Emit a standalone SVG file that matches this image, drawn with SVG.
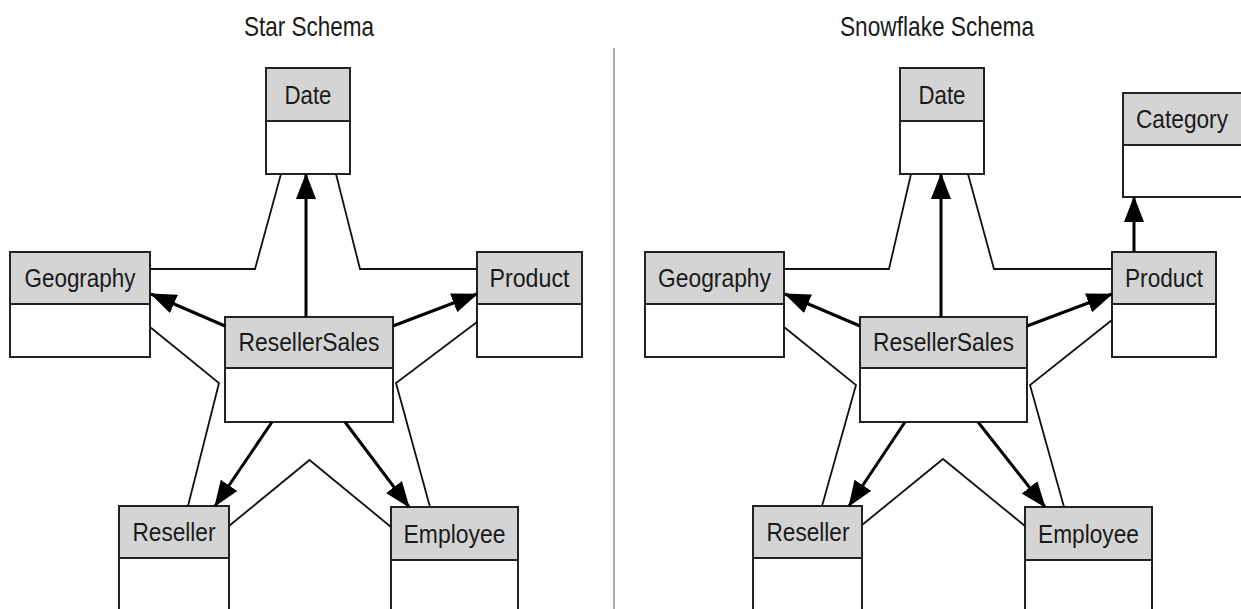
<svg xmlns="http://www.w3.org/2000/svg" width="1241" height="609" viewBox="0 0 1241 609">
<style>
.bg{fill:#fff}
.hd{fill:#d4d4d4;stroke:#222;stroke-width:2}
.bd{fill:#fff;stroke:#222;stroke-width:2}
.lbl{font-family:"Liberation Sans",Arial,sans-serif;font-size:26px;fill:#1a1a1a;text-anchor:middle}
.ttl{font-family:"Liberation Sans",Arial,sans-serif;font-size:28px;fill:#1a1a1a;text-anchor:middle}
.thin{fill:none;stroke:#111;stroke-width:1.8;stroke-linejoin:miter}
.thick{fill:none;stroke:#000;stroke-width:3;marker-end:url(#ah)}
.div{stroke:#aaa;stroke-width:2}
</style>
<defs>
<marker id="ah" markerUnits="userSpaceOnUse" markerWidth="26" markerHeight="21" refX="25" refY="10" orient="auto">
<path d="M0,0 L26,10 L0,20 z" fill="#000"/>
</marker>
</defs>
<rect class="bg" x="0" y="0" width="1241" height="609"/>
<text class="ttl" x="309" y="36" textLength="130" lengthAdjust="spacingAndGlyphs">Star Schema</text>
<text class="ttl" x="937" y="36" textLength="194" lengthAdjust="spacingAndGlyphs">Snowflake Schema</text>
<line class="div" x1="614" y1="48" x2="614" y2="609"/>

<g id="star-date"><rect class="hd" x="266" y="68" width="84" height="53"/><rect class="bd" x="266" y="121" width="84" height="53"/><text class="lbl" x="308" y="103.5" textLength="47" lengthAdjust="spacingAndGlyphs">Date</text></g>
<g id="star-geography"><rect class="hd" x="10" y="252" width="140" height="52"/><rect class="bd" x="10" y="304" width="140" height="53"/><text class="lbl" x="80" y="287" textLength="111" lengthAdjust="spacingAndGlyphs">Geography</text></g>
<g id="star-product"><rect class="hd" x="477" y="252" width="105" height="52"/><rect class="bd" x="477" y="304" width="105" height="53"/><text class="lbl" x="529.5" y="287" textLength="80" lengthAdjust="spacingAndGlyphs">Product</text></g>
<g id="star-resellersales"><rect class="hd" x="225" y="317" width="168" height="51"/><rect class="bd" x="225" y="368" width="168" height="54"/><text class="lbl" x="309" y="351" textLength="141" lengthAdjust="spacingAndGlyphs">ResellerSales</text></g>
<g id="star-reseller"><rect class="hd" x="119" y="506" width="110" height="52"/><rect class="bd" x="119" y="558" width="110" height="70"/><text class="lbl" x="174" y="541" textLength="83" lengthAdjust="spacingAndGlyphs">Reseller</text></g>
<g id="star-employee"><rect class="hd" x="391" y="507" width="127" height="53"/><rect class="bd" x="391" y="560" width="127" height="70"/><text class="lbl" x="454.5" y="542.5" textLength="102" lengthAdjust="spacingAndGlyphs">Employee</text></g>

<g id="snow-date"><rect class="hd" x="900" y="68" width="84" height="53"/><rect class="bd" x="900" y="121" width="84" height="53"/><text class="lbl" x="942" y="103.5" textLength="47" lengthAdjust="spacingAndGlyphs">Date</text></g>
<g id="snow-category"><rect class="hd" x="1123" y="93" width="122" height="52"/><rect class="bd" x="1123" y="145" width="122" height="52"/><text class="lbl" x="1182" y="127.5" textLength="92" lengthAdjust="spacingAndGlyphs">Category</text></g>
<g id="snow-geography"><rect class="hd" x="645" y="252" width="139" height="52"/><rect class="bd" x="645" y="304" width="139" height="53"/><text class="lbl" x="714.5" y="287" textLength="113" lengthAdjust="spacingAndGlyphs">Geography</text></g>
<g id="snow-product"><rect class="hd" x="1112" y="252" width="104" height="52"/><rect class="bd" x="1112" y="304" width="104" height="53"/><text class="lbl" x="1164" y="287" textLength="78" lengthAdjust="spacingAndGlyphs">Product</text></g>
<g id="snow-resellersales"><rect class="hd" x="860" y="317" width="167" height="51"/><rect class="bd" x="860" y="368" width="167" height="54"/><text class="lbl" x="943.5" y="351" textLength="141" lengthAdjust="spacingAndGlyphs">ResellerSales</text></g>
<g id="snow-reseller"><rect class="hd" x="753" y="506" width="109" height="52"/><rect class="bd" x="753" y="558" width="109" height="70"/><text class="lbl" x="808" y="541" textLength="83" lengthAdjust="spacingAndGlyphs">Reseller</text></g>
<g id="snow-employee"><rect class="hd" x="1025" y="507" width="127" height="53"/><rect class="bd" x="1025" y="560" width="127" height="70"/><text class="lbl" x="1088.5" y="542.5" textLength="101" lengthAdjust="spacingAndGlyphs">Employee</text></g>

<g id="connectors">
<polyline class="thin" points="281,174 255,269 150,269"/>
<polyline class="thin" points="336,174 360,269 477,269"/>
<polyline class="thin" points="150,327 219,383 188,506"/>
<polyline class="thin" points="477,322 396,383 430,507"/>
<polyline class="thin" points="229,526 309.5,460 391,527"/>
<line class="thick" x1="306" y1="317" x2="306" y2="174"/>
<line class="thick" x1="225" y1="326" x2="151" y2="294"/>
<line class="thick" x1="393" y1="326" x2="477" y2="294"/>
<line class="thick" x1="272" y1="422" x2="215" y2="506"/>
<line class="thick" x1="345" y1="422" x2="409" y2="507"/>

<polyline class="thin" points="911,174 889,269 784,269"/>
<polyline class="thin" points="968,174 994,269 1112,269"/>
<polyline class="thin" points="784,327 856,385 822,506"/>
<polyline class="thin" points="1112,320 1030,385 1064,507"/>
<polyline class="thin" points="862,525 943,459 1025,526"/>
<line class="thick" x1="941" y1="317" x2="941" y2="174"/>
<line class="thick" x1="860" y1="326" x2="785" y2="294"/>
<line class="thick" x1="1027" y1="326" x2="1112" y2="294"/>
<line class="thick" x1="905" y1="422" x2="849" y2="506"/>
<line class="thick" x1="978" y1="422" x2="1045" y2="507"/>
<line class="thick" x1="1134" y1="252" x2="1134" y2="197"/>
</g>
</svg>
